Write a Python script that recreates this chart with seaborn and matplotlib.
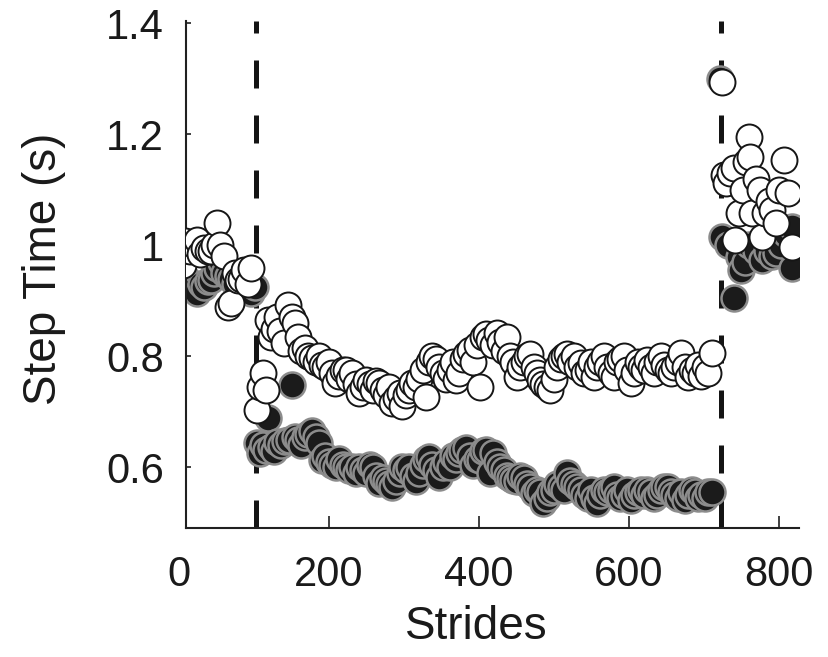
import numpy as np
import pandas as pd
import matplotlib
matplotlib.use("Agg")
import matplotlib.pyplot as plt
import seaborn as sns

# ---------------- data ----------------
# open circles (baseline, adaptation, post-adaptation)
open_x = [5, 8, 14, 19, 24, 28, 33, 38, 42, 47, 51, 55, 60, 65, 69, 74, 78, 83, 87, 92, 96,
          104, 108, 112, 116, 119, 123, 127, 131, 135, 140, 145, 150, 154, 158, 163, 168, 172, 177,
          182, 187, 191, 195, 200, 204, 208, 213, 218, 222, 227, 231, 236, 240, 245, 249, 254, 258,
          263, 267, 272, 276, 280, 284, 289, 294, 298, 303, 307, 311, 316, 320, 325, 329, 334, 338,
          343, 347, 352, 356, 361, 365, 370, 374, 379, 383, 388, 392, 397, 401, 405, 410, 414, 419,
          424, 428, 433, 437, 442, 446, 451, 455, 460, 464, 468, 473, 477, 482, 486, 491, 495, 500,
          504, 509, 513, 518, 522, 527, 531, 536, 540, 545, 549, 553, 558, 562, 567, 571, 576, 580,
          585, 589, 594, 598, 603, 607, 612, 616, 621, 625, 630, 634, 638, 643, 647, 652, 657, 661,
          666, 670, 675, 679, 684, 688, 693, 697, 702, 706, 711,
          724, 727, 730, 735, 740, 742, 747, 752, 757, 760, 762, 765, 770, 775, 778, 782, 787, 791,
          796, 800, 807, 812, 818]
open_y = [0.965, 1.007, 0.990, 1.000, 1.010, 0.985, 0.995, 0.990, 0.990, 1.000, 1.040, 1.000, 0.980,
          0.889, 0.896, 0.950, 0.937, 0.940, 0.955, 0.930, 0.960,
          0.703, 0.745, 0.770, 0.740, 0.865, 0.835, 0.850, 0.870, 0.845, 0.824, 0.892, 0.870, 0.860,
          0.835, 0.810, 0.815, 0.800, 0.797, 0.790, 0.800, 0.785, 0.781, 0.790, 0.770, 0.752, 0.765,
          0.775, 0.775, 0.760, 0.770, 0.750, 0.734, 0.745, 0.757, 0.750, 0.740, 0.755, 0.752, 0.740,
          0.730, 0.745, 0.716, 0.725, 0.734, 0.710, 0.730, 0.740, 0.752, 0.745, 0.760, 0.775, 0.727,
          0.790, 0.800, 0.795, 0.781, 0.770, 0.760, 0.775, 0.790, 0.757, 0.770, 0.795, 0.805, 0.811,
          0.790, 0.820, 0.745, 0.835, 0.840, 0.830, 0.820, 0.842, 0.825, 0.810, 0.835, 0.800, 0.790,
          0.763, 0.780, 0.790, 0.800, 0.805, 0.780, 0.770, 0.757, 0.750, 0.745, 0.739, 0.760, 0.780,
          0.795, 0.800, 0.805, 0.790, 0.800, 0.780, 0.788, 0.770, 0.775, 0.790, 0.763, 0.780, 0.790,
          0.800, 0.780, 0.770, 0.763, 0.790, 0.795, 0.800, 0.775, 0.752, 0.770, 0.790, 0.780, 0.775,
          0.793, 0.780, 0.770, 0.790, 0.800, 0.785, 0.775, 0.770, 0.780, 0.790, 0.806, 0.780, 0.763,
          0.775, 0.770, 0.785, 0.765, 0.780, 0.770, 0.806,
          1.295, 1.127, 1.112, 1.130, 1.140, 1.010, 1.058, 1.100, 1.150, 1.196, 1.159, 1.058, 1.120,
          1.100, 1.015, 1.058, 1.080, 1.064, 1.040, 1.100, 1.154, 1.094, 0.997]

# filled circles
fill_x = [5, 10, 15, 20, 24, 29, 33, 38, 42, 47, 51, 56, 60, 65, 69, 74, 78, 83, 87, 92, 96, 101,
          104, 108, 112, 116, 119, 123, 127, 131, 136, 141, 146, 150, 154, 159, 163, 168, 172, 177,
          182, 186, 190, 195, 200, 204, 209, 213, 218, 222, 227, 231, 236, 240, 245, 249, 254, 258,
          263, 267, 272, 276, 280, 284, 289, 294, 298, 303, 307, 312, 316, 320, 325, 329, 334, 338,
          343, 347, 352, 356, 361, 365, 370, 374, 378, 383, 388, 392, 397, 401, 405, 410, 415, 419,
          424, 428, 433, 437, 442, 446, 451, 455, 460, 464, 468, 473, 477, 482, 486, 491, 495, 500,
          504, 509, 513, 518, 522, 527, 531, 536, 540, 545, 549, 553, 558, 562, 567, 571, 576, 580,
          585, 589, 594, 598, 603, 607, 612, 616, 621, 625, 630, 634, 638, 643, 647, 652, 657, 661,
          666, 670, 675, 679, 684, 688, 693, 697, 702, 706, 711,
          722, 725, 733, 740, 747, 750, 755, 760, 765, 770, 778, 785, 791, 796, 803, 810, 818, 818]
fill_y = [0.950, 0.940, 0.925, 0.920, 0.914, 0.930, 0.925, 0.935, 0.937, 0.950, 0.960, 0.970, 0.950,
          0.945, 0.940, 0.930, 0.950, 0.945, 0.930, 0.920, 0.914, 0.925,
          0.643, 0.625, 0.640, 0.632, 0.689, 0.637, 0.630, 0.645, 0.640, 0.648, 0.650, 0.748, 0.655,
          0.650, 0.640, 0.655, 0.660, 0.665, 0.655, 0.643, 0.613, 0.620, 0.610, 0.605, 0.600, 0.615,
          0.605, 0.601, 0.595, 0.600, 0.590, 0.600, 0.595, 0.590, 0.605, 0.600, 0.585, 0.571, 0.580,
          0.575, 0.570, 0.565, 0.575, 0.590, 0.600, 0.595, 0.601, 0.585, 0.575, 0.590, 0.605, 0.615,
          0.619, 0.605, 0.595, 0.583, 0.600, 0.610, 0.600, 0.620, 0.615, 0.625, 0.631, 0.635, 0.620,
          0.605, 0.615, 0.613, 0.630, 0.631, 0.590, 0.625, 0.610, 0.600, 0.595, 0.585, 0.580, 0.577,
          0.575, 0.585, 0.580, 0.570, 0.565, 0.554, 0.560, 0.555, 0.536, 0.545, 0.555, 0.560, 0.570,
          0.565, 0.560, 0.590, 0.575, 0.570, 0.565, 0.559, 0.550, 0.545, 0.560, 0.545, 0.536, 0.550,
          0.560, 0.555, 0.560, 0.565, 0.550, 0.545, 0.550, 0.560, 0.541, 0.550, 0.555, 0.560, 0.550,
          0.559, 0.555, 0.545, 0.550, 0.560, 0.565, 0.565, 0.555, 0.550, 0.545, 0.555, 0.541, 0.550,
          0.560, 0.555, 0.545, 0.550, 0.545, 0.555, 0.556,
          1.300, 1.015, 1.000, 0.905, 0.979, 0.955, 0.970, 1.000, 1.112, 0.990, 0.973, 0.990, 0.980,
          0.986, 1.000, 1.020, 1.033, 0.960]

phase_changes = [102, 723]

x_ticks = [0, 200, 400, 600, 800]
x_tick_labels = ["0", "200", "400", "600", "800"]
y_ticks = [0.6, 0.8, 1.0, 1.2, 1.4]
y_tick_labels = ["0.6", "0.8", "1", "1.2", "1.4"]

x_label = "Strides"
y_label = "Step Time (s)"

# ---------------- plotting ----------------
sns.set_style("ticks")
plt.rcParams["font.family"] = ["Liberation Sans", "DejaVu Sans"]

fig = plt.figure(figsize=(8.29, 6.57), dpi=100)
ax = fig.add_axes([0.2244, 0.1968, 0.7400, 0.7717])

for xv in phase_changes:
    ax.axvline(xv, color="#141414", lw=3.6, ls=(0, (5.6, 5.4)), zorder=1)

df_fill = pd.DataFrame({"x": fill_x, "y": fill_y})
df_open = pd.DataFrame({"x": open_x, "y": open_y})

sns.scatterplot(data=df_fill, x="x", y="y", ax=ax, s=350, color="#1b1b1b",
                edgecolor="#8c8c8c", linewidth=1.8, zorder=2, legend=False)
sns.scatterplot(data=df_open, x="x", y="y", ax=ax, s=350, color="white",
                edgecolor="#161616", linewidth=1.4, zorder=3, legend=False)

x_lo, x_hi = 9, 828
ax.set_xlim(x_lo, x_hi)
ax.set_ylim(0.4912, 1.4047)

# ticks inside the view get regular tick labels; the "0" label sits just left of the spine
inside = [(t, l) for t, l in zip(x_ticks, x_tick_labels) if x_lo <= t <= x_hi]
ax.set_xticks([t for t, _ in inside])
ax.set_xticklabels([l for _, l in inside])
for t, l in zip(x_ticks, x_tick_labels):
    if t < x_lo:
        ax.text(t, -20 / 72 * 100 / 507, l, transform=ax.get_xaxis_transform(),
                ha="center", va="top", fontsize=30, color="#1a1a1a", clip_on=False)

ax.set_yticks(y_ticks)
ax.set_yticklabels(y_tick_labels)

for side in ["top", "right"]:
    ax.spines[side].set_visible(False)
for side in ["left", "bottom"]:
    ax.spines[side].set_linewidth(1.5)
    ax.spines[side].set_color("#202020")

ax.tick_params(axis="x", direction="in", length=9, width=1.2, colors="#202020",
               labelsize=30, pad=20, labelcolor="#1a1a1a")
ax.tick_params(axis="y", direction="in", length=3.5, width=1.2, colors="#202020",
               labelsize=30, pad=16, labelcolor="#1a1a1a")

ax.set_xlabel(x_label, fontsize=33, color="#1a1a1a")
ax.set_ylabel(y_label, fontsize=33, color="#1a1a1a")
ax.xaxis.set_label_coords(0.4735, -0.196)
ax.xaxis.label.set_verticalalignment("center")
ax.yaxis.set_label_coords(-0.2315, 0.51)
ax.yaxis.label.set_verticalalignment("center")

fig.savefig("out.png", dpi=100)
